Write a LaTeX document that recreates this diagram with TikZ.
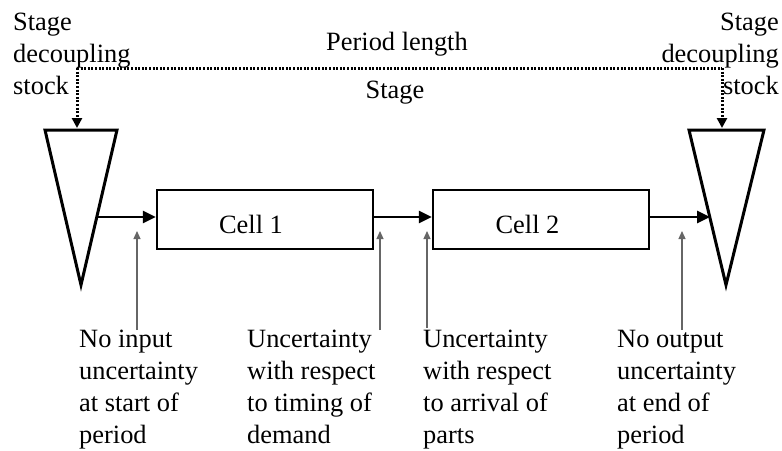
\documentclass[tikz,border=0pt]{standalone}
\usepackage{fontspec}
\setmainfont{Liberation Serif}
\usetikzlibrary{arrows.meta}
\begin{document}
\begin{tikzpicture}[x=1pt,y=-1pt,
  txt/.style={font=\fontsize{26.4}{31.7}\selectfont, inner sep=0pt, align=left},
  cellbox/.style={draw, line width=2.5pt, minimum width=216pt, minimum height=59pt, inner sep=0pt},
  tri/.style={draw, line width=3pt, line join=miter},
  flow/.style={line width=2.8pt, -{Triangle[length=13pt,width=12pt]}},
  note/.style={draw=black!60, line width=1.2pt, -{Triangle[length=8pt,width=7pt]}},
  dotline/.style={line width=3pt, dash pattern=on 2pt off 1.6pt},
  dotarrow/.style={dotline, -{Triangle[length=10pt,width=10pt]}}
]
\useasboundingbox (0,0) rectangle (782,450);
% triangles (stocks)
\coordinate (lta) at (45,130); \coordinate (ltb) at (117,130); \coordinate (ltc) at (81,285);
\coordinate (rta) at (689,130); \coordinate (rtb) at (764,130); \coordinate (rtc) at (726,285);
\draw[tri] (lta) -- (ltb) -- (ltc) -- cycle;
\draw[tri] (rta) -- (rtb) -- (rtc) -- cycle;
% cells
\node[cellbox] (c1) at (265,219.5) {};
\node[cellbox] (c2) at (541,219.5) {};
\node[txt, anchor=base] (c1t) at (251,233) {Cell 1};
\node[txt, anchor=base] (c2t) at (527.5,233) {Cell 2};
% flow arrows
\coordinate (lout) at (97,217);
\coordinate (rin) at (710,217);
\draw[flow] (lout) -- (c1.west |- lout);
\draw[flow] (c1.east |- lout) -- (c2.west |- lout);
\draw[flow] (c2.east |- lout) -- (rin);
% dotted period line
\coordinate (dl) at (77,68); \coordinate (dr) at (722,68);
\coordinate (dlt) at (77,128); \coordinate (drt) at (722,128);
\draw[dotline] (dl) -- (dr);
\draw[dotarrow] (dl) -- (dlt);
\draw[dotarrow] (dr) -- (drt);
\node[txt, anchor=base] (pl) at (397,50) {Period length};
\node[txt, anchor=base] (st) at (395,98) {Stage};
% stock labels (base = last line)
\node[txt, anchor=base west] (sl) at (13,94) {Stage\\decoupling\\stock};
\node[txt, anchor=base east, align=right] (sr) at (779,94) {Stage\\decoupling\\stock};
% notes
\coordinate (n1t) at (137,231); \coordinate (n1b) at (137,330);
\coordinate (n2t) at (380,231); \coordinate (n2b) at (380,330);
\coordinate (n3t) at (427,231); \coordinate (n3b) at (427,328);
\coordinate (n4t) at (682,231); \coordinate (n4b) at (682,330);
\draw[note] (n1b) -- (n1t);
\draw[note] (n2b) -- (n2t);
\draw[note] (n3b) -- (n3t);
\draw[note] (n4b) -- (n4t);
\node[txt, anchor=base west] (b1) at (79,443) {No input\\uncertainty\\at start of\\period};
\node[txt, anchor=base west] (b2) at (247,443) {Uncertainty\\with respect\\to timing of\\demand};
\node[txt, anchor=base west] (b3) at (423,443) {Uncertainty\\with respect\\to arrival of\\parts};
\node[txt, anchor=base west] (b4) at (617,443) {No output\\uncertainty\\at end of\\period};
\end{tikzpicture}
\end{document}
